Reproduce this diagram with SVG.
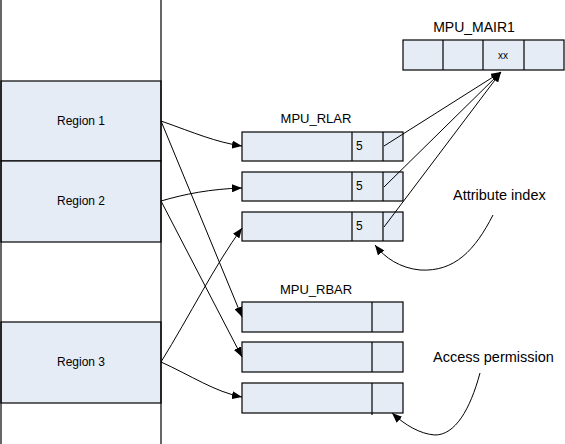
<svg xmlns="http://www.w3.org/2000/svg" width="565" height="444" viewBox="0 0 565 444">
<style>
.box{fill:#E6ECF6;stroke:#000;stroke-width:1.2}
.ln{fill:none;stroke:#000;stroke-width:1.2}
.cn{fill:none;stroke:#000;stroke-width:1}
.t{font-family:"Liberation Sans",Arial,sans-serif;fill:#000}
</style>
<defs>
<marker id="ah" viewBox="0 0 10 8" refX="10" refY="4" markerWidth="10" markerHeight="8" markerUnits="userSpaceOnUse" orient="auto">
<path d="M0,0 L10,4 L0,8 Z" fill="#000"/>
</marker>
</defs>
<rect width="565" height="444" fill="#fff"/>
<g id="memory">
<rect class="box" x="1" y="81" width="160" height="80"/>
<rect class="box" x="1" y="161" width="160" height="81"/>
<rect class="box" x="1" y="322" width="160" height="81"/>
<line class="ln" x1="1" y1="0" x2="1" y2="444"/>
<line class="ln" x1="161" y1="0" x2="161" y2="444"/>
<text class="t" x="81" y="125" font-size="12" text-anchor="middle">Region 1</text>
<text class="t" x="81" y="205" font-size="12" text-anchor="middle">Region 2</text>
<text class="t" x="81" y="366" font-size="12" text-anchor="middle">Region 3</text>
</g>
<g id="mair1">
<text class="t" x="474" y="32" font-size="14" text-anchor="middle">MPU_MAIR1</text>
<rect class="box" x="403" y="40" width="161" height="30"/>
<line class="ln" x1="443" y1="40" x2="443" y2="70"/>
<line class="ln" x1="483" y1="40" x2="483" y2="70"/>
<line class="ln" x1="524" y1="40" x2="524" y2="70"/>
<text class="t" x="503" y="59" font-size="10" text-anchor="middle">xx</text>
</g>
<g id="rlar">
<text class="t" x="316" y="123" font-size="13" text-anchor="middle">MPU_RLAR</text>
<rect class="box" x="242" y="132" width="161" height="29"/>
<line class="ln" x1="352" y1="132" x2="352" y2="161"/>
<line class="ln" x1="383" y1="132" x2="383" y2="161"/>
<text class="t" x="356" y="150" font-size="12">5</text>
<rect class="box" x="242" y="172" width="161" height="29"/>
<line class="ln" x1="352" y1="172" x2="352" y2="201"/>
<line class="ln" x1="383" y1="172" x2="383" y2="201"/>
<text class="t" x="356" y="190" font-size="12">5</text>
<rect class="box" x="242" y="212" width="161" height="29"/>
<line class="ln" x1="352" y1="212" x2="352" y2="241"/>
<line class="ln" x1="383" y1="212" x2="383" y2="241"/>
<text class="t" x="356" y="230" font-size="12">5</text>
</g>
<g id="rbar">
<text class="t" x="316" y="294" font-size="13" text-anchor="middle">MPU_RBAR</text>
<rect class="box" x="242" y="302" width="161" height="30"/>
<line class="ln" x1="372" y1="302" x2="372" y2="332"/>
<rect class="box" x="242" y="342" width="161" height="30"/>
<line class="ln" x1="372" y1="342" x2="372" y2="372"/>
<rect class="box" x="242" y="383" width="161" height="30"/>
<line class="ln" x1="372" y1="383" x2="372" y2="415"/>
</g>
<g id="labels">
<text class="t" x="453" y="200" font-size="14.5">Attribute index</text>
<text class="t" x="433" y="362" font-size="14.5">Access permission</text>
</g>
<g id="connectors">
<path class="cn" d="M161,121 C195,133 215,142 242,146" marker-end="url(#ah)"/>
<path class="cn" d="M161,201 C185,194 210,189 242,188" marker-end="url(#ah)"/>
<path class="cn" d="M161,362 C190,315 215,265 242,228" marker-end="url(#ah)"/>
<path class="cn" d="M161,362 C190,375 215,392 242,397" marker-end="url(#ah)"/>
<path class="cn" d="M161,121 L242,317" marker-end="url(#ah)"/>
<path class="cn" d="M161,201 L242,357" marker-end="url(#ah)"/>
<path class="cn" d="M384,146 L501,72" marker-end="url(#ah)"/>
<path class="cn" d="M384,187 L501,72" marker-end="url(#ah)"/>
<path class="cn" d="M384,227 L501,72" marker-end="url(#ah)"/>
<path class="cn" d="M493,215 C475,250 455,272 420,270 C400,268 385,258 375,245" marker-end="url(#ah)"/>
<path class="cn" d="M480,373 C470,410 455,435 435,435 C420,434 405,425 392,413" marker-end="url(#ah)"/>
</g>
</svg>
